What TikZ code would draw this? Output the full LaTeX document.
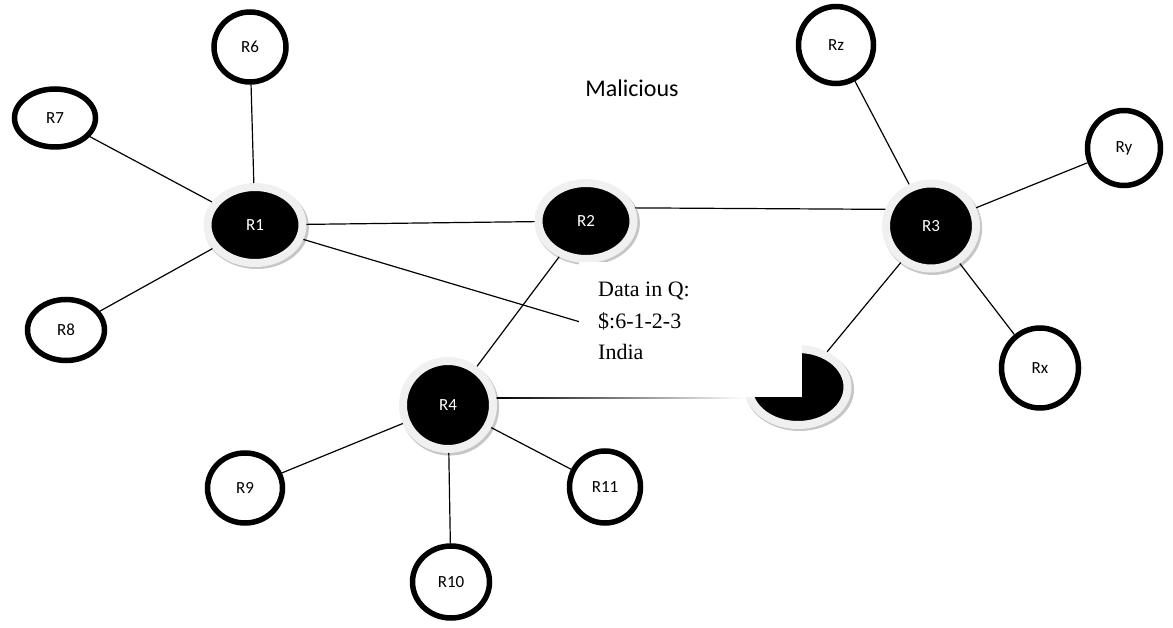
\documentclass[tikz,border=0pt]{standalone}
\usepackage{fontspec}
\setmainfont{Carlito}
\newfontfamily\dataserif{Liberation Serif}
\usetikzlibrary{shapes.geometric,shadows}

\begin{document}
\begin{tikzpicture}[x=1pt,y=-1pt,
    leaf/.style={ellipse,draw=black,line width=5.5pt,fill=white,inner sep=0pt,
                 font=\fontsize{17}{19}\selectfont},
    hub/.style={ellipse,fill=black,draw=gray!12,line width=8pt,text=white,inner sep=0pt,
                drop shadow={fill=gray!45,opacity=1,shadow scale=1.1,
                             shadow xshift=1.5pt,shadow yshift=-2pt},
                font=\fontsize{17}{19}\selectfont},
    link/.style={line width=1.2pt}]
  \useasboundingbox (0,0) rectangle (1173,628);

  % Routers
  \node[hub,minimum width=95pt,minimum height=76pt] (R1) at (255,225) {R1};
  \node[hub,minimum width=95pt,minimum height=76pt] (R2) at (586,221) {R2};
  \node[hub,minimum width=90pt,minimum height=85pt] (R3) at (931,226) {R3};
  \node[hub,minimum width=90pt,minimum height=88pt] (R4) at (448,405) {R4};
  \node[hub,minimum width=99pt,minimum height=76pt] (dest) at (798,387) {};

  % Neighbours
  \node[leaf,minimum width=72pt,minimum height=70pt] (R6) at (250,47) {R6};
  \node[leaf,minimum width=81pt,minimum height=58pt] (R7) at (55,118) {R7};
  \node[leaf,minimum width=77pt,minimum height=61pt] (R8) at (66,330) {R8};
  \node[leaf,minimum width=75pt,minimum height=77pt] (Rz) at (836,45) {Rz};
  \node[leaf,minimum width=73pt,minimum height=75pt] (Ry) at (1124,148) {Ry};
  \node[leaf,minimum width=77pt,minimum height=80pt] (Rx) at (1040,368) {Rx};
  \node[leaf,minimum width=75pt,minimum height=70pt] (R9) at (245,488) {R9};
  \node[leaf,minimum width=77pt,minimum height=72pt] (R10) at (451,582) {R10};
  \node[leaf,minimum width=71pt,minimum height=72pt] (R11) at (605,487) {R11};

  \node[font=\fontsize{24}{26}\selectfont] (mal) at (632,88) {Malicious};

  % Links
  \draw[link] (R6) -- (R1);
  \draw[link] (R7) -- (R1);
  \draw[link] (R8) -- (R1);
  \draw[link] (R1) -- (R2);
  \draw[link] (R1) -- (dest);
  \draw[link] (R2.15) -- (R3.160);
  \draw[link] (R2) -- (R4);
  \draw[link] (R3) -- (Rz);
  \draw[link] (R3) -- (Ry);
  \draw[link] (R3) -- (Rx);
  \draw[link] (R3) -- (dest);
  \draw[link] (R4) -- (R9);
  \draw[link] (R4) -- (R10);
  \draw[link] (R4) -- (R11);
  % fading link to the queue
  \shade[left color=black,middle color=black!75,right color=white]
        ([yshift=-0.6pt]R4.8) rectangle ([yshift=0.6pt]R4.8 -| dest.west);

  % Queue box
  \node[fill=white,inner sep=0pt,anchor=north west,
        minimum width=223pt,minimum height=135pt] (Q) at (579,262) {};
  \node[inner sep=0pt,anchor=north west,align=left,
        font=\dataserif\fontsize{22}{31.5}\selectfont] (Qtext) at (598,282)
        {Data in Q:\\\$:6-1-2-3\\India};
\end{tikzpicture}
\end{document}
